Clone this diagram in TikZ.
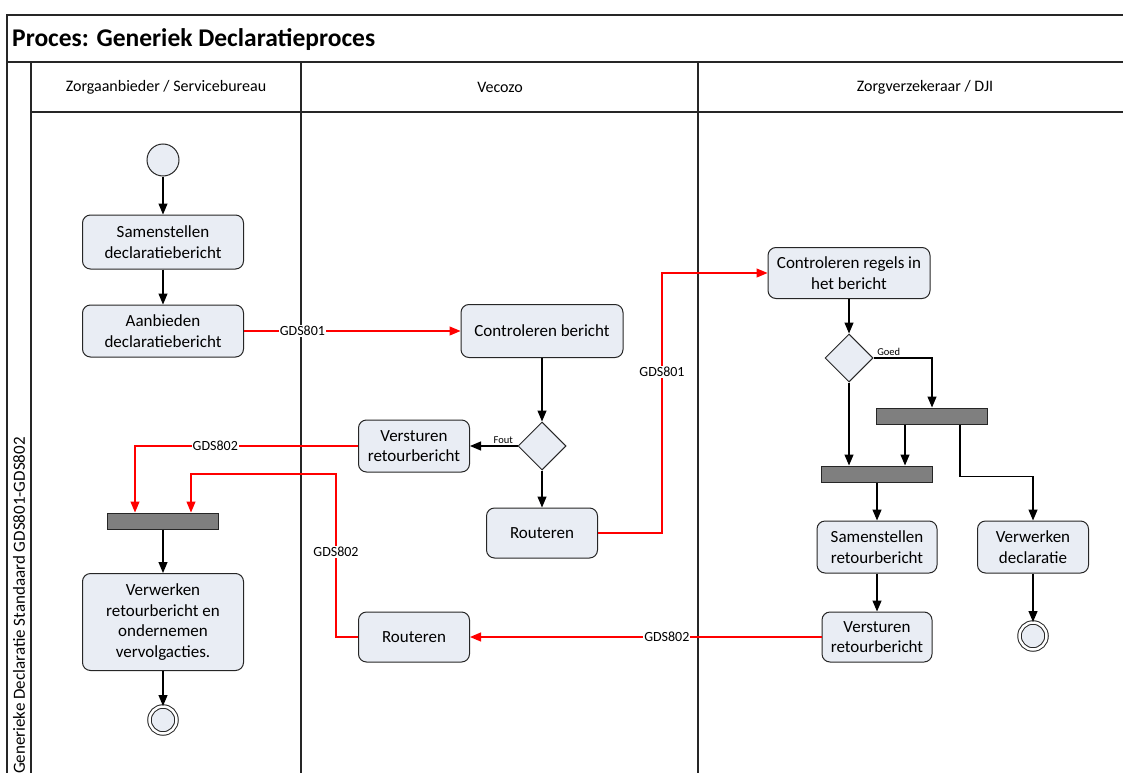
\documentclass[tikz,border=0pt]{standalone}
\usepackage{fontspec}
\setmainfont{Carlito}
\usetikzlibrary{arrows.meta,shapes.geometric}

\definecolor{vulblauw}{HTML}{E9EDF4}
\definecolor{balkgrijs}{HTML}{7F7F7F}
\definecolor{lijnrood}{HTML}{FF0000}
\definecolor{randgrijs}{HTML}{262626}

\begin{document}
\begin{tikzpicture}[x=1pt, y=-1pt]
        \useasboundingbox (0,0) rectangle (1123,773);
        % kader en banen
        \begin{scope}[line width=1.3pt, draw=randgrijs]
            \draw (1123,15) -- (7,15) -- (7,773);
            \draw (7,62) -- (1123,62);
            \draw (31,112) -- (1123,112);
            \draw (31,62) -- (31,773);
            \draw (301,62) -- (301,773);
            \draw (698,62) -- (698,773);
        \end{scope}
        \begin{scope}
            \tikzstyle{every node}=[text=black, inner sep=0pt]
            \node[anchor=west, font=\fontsize{25.5}{30}\selectfont\bfseries] (titel) at (12,40) {Proces: Generiek Declaratieproces};
            \node[font=\fontsize{16}{19}\selectfont] (baan1) at (166,87) {Zorgaanbieder / Servicebureau};
            \node[font=\fontsize{16}{19}\selectfont] (baan2) at (500,87) {Vecozo};
            \node[font=\fontsize{16}{19}\selectfont] (baan3) at (925,87) {Zorgverzekeraar / DJI};
            \node[rotate=90, anchor=east, font=\fontsize{17}{20}\selectfont] (standaard) at (19,437) {Generieke Declaratie Standaard GDS801-GDS802};
        \end{scope}
        % activiteiten
        \begin{scope}
            \tikzstyle{every node}=[draw=randgrijs, line width=1pt, text=black, font=\fontsize{17}{20.5}\selectfont, align=center]
            \tikzstyle{actie}=[rectangle, rounded corners=8pt, fill=vulblauw, minimum width=161pt, minimum height=54pt]
            \tikzstyle{keuze}=[diamond, fill=vulblauw, minimum width=48pt, minimum height=48pt, inner sep=0pt]
            \tikzstyle{balk}=[rectangle, fill=balkgrijs, minimum width=111pt, minimum height=16pt, inner sep=0pt]
            \tikzstyle{startpunt}=[circle, fill=vulblauw, minimum size=32pt, inner sep=0pt]
            \tikzstyle{eindpunt}=[circle, fill=vulblauw, double, double distance=2.5pt, minimum size=27pt, inner sep=0pt]
            \node[startpunt] (start) at (163,160) {};
            \node[actie] (samen) at (163,242) {Samenstellen\\declaratiebericht};
            \node[actie, minimum height=52pt] (aanb) at (163,331) {Aanbieden\\declaratiebericht};
            \node[balk] (balk1) at (163,521) {};
            \node[actie, minimum height=97pt] (verw) at (163,622) {Verwerken\\retourbericht en\\ondernemen\\vervolgacties.};
            \node[eindpunt] (eind1) at (163,720) {};
            \node[actie, minimum width=162pt, minimum height=53pt] (contr) at (542,331) {Controleren bericht};
            \node[keuze] (keuze1) at (542,446) {};
            \node[actie, minimum width=111pt, minimum height=52pt] (verst1) at (414,446) {Versturen\\retourbericht};
            \node[actie, minimum width=111pt, minimum height=50pt] (rout1) at (542,533) {Routeren};
            \node[actie, minimum width=111pt, minimum height=50pt] (rout2) at (414,637) {Routeren};
            \node[actie, minimum width=162pt, minimum height=51pt] (regels) at (849,273) {Controleren regels in\\het bericht};
            \node[keuze] (keuze2) at (849,358) {};
            \node[balk] (balkA) at (932,416) {};
            \node[balk] (balkB) at (877,474) {};
            \node[actie, minimum width=120pt, minimum height=52pt] (samenr) at (877,547) {Samenstellen\\retourbericht};
            \node[actie, minimum width=111pt, minimum height=52pt] (verwd) at (1033,547) {Verwerken\\declaratie};
            \node[actie, minimum width=110pt, minimum height=50pt] (verst2) at (877,637) {Versturen\\retourbericht};
            \node[eindpunt] (eind2) at (1033,636) {};
        \end{scope}
        \coordinate (in1L) at ([xshift=-28pt]balk1.north);
        \coordinate (in1R) at ([xshift=28pt]balk1.north);
        \coordinate (uitA1) at ([xshift=-27pt]balkA.south);
        \coordinate (uitA2) at ([xshift=28pt]balkA.south);
        % stromen
        \begin{scope}
            \tikzstyle{every edge}=[draw, line width=1.2pt, -{Triangle[length=11pt,width=9pt]}]
            \tikzstyle{rood}=[draw=lijnrood, line width=1.2pt, -{Triangle[length=11pt,width=9pt]}]
            \tikzstyle{lbl}=[fill=white, inner sep=1pt, font=\fontsize{14}{16}\selectfont]
            \tikzstyle{klein}=[font=\fontsize{10.5}{12}\selectfont, inner sep=2pt]
            \path
            (start) edge (samen)
            (samen) edge (aanb)
            (contr) edge (keuze1)
            (keuze1) edge node[klein, above, pos=0.3] {Fout} (verst1)
            (keuze1) edge (rout1)
            (regels) edge (keuze2)
            (keuze2.south) edge (keuze2.south |- balkB.north)
            (uitA1) edge (uitA1 |- balkB.north)
            (balkB) edge (samenr)
            (samenr) edge (verst2)
            (verwd) edge (eind2)
            (balk1) edge (verw)
            (verw) edge (eind1)
            ;
            \draw[line width=1.2pt, -{Triangle[length=11pt,width=9pt]}] (keuze2.east) -| node[klein, above, pos=0.13] {Goed} (balkA.north);
            \draw[line width=1.2pt, -{Triangle[length=11pt,width=9pt]}] (uitA2) -- ++(0,52) -| (verwd.north);
            \draw[rood] (aanb) -- node[lbl, pos=0.27] {GDS801} (contr);
            \draw[rood] (rout1.east) -- ++(64,0) |- node[lbl, pos=0.31] {GDS801} (regels.west);
            \draw[rood] (verst2) -- node[lbl, pos=0.44] {GDS802} (rout2);
            \draw[rood] (verst1.west) -| node[lbl, pos=0.32] {GDS802} (in1L);
            \draw[rood] (rout2.west) -- ++(-22,0) |- node[lbl, pos=0.26] {GDS802} (in1R |- 0,474) -- (in1R);
        \end{scope}
\end{tikzpicture}
\end{document}
